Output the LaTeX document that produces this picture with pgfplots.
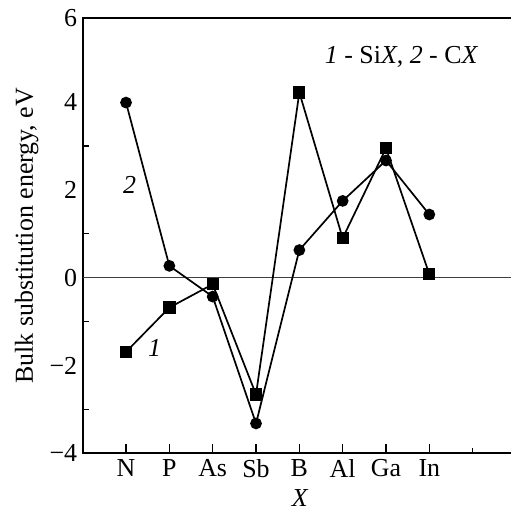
\documentclass[border=0pt]{standalone}
\usepackage{fontspec}
\setmainfont{Liberation Serif}
\usepackage{pgfplots}
\pgfplotsset{compat=1.18}
\begin{document}
\begin{tikzpicture}
\begin{axis}[
  scale only axis,
  width=428.3bp, height=435bp,
  xmin=0, xmax=9.885, ymin=-4, ymax=5.91,
  axis line style={draw=none},
  clip=false,
  tick align=inside,
  xtick pos=bottom, ytick pos=left,
  xtick={1,2,3,4,5,6,7,8},
  xticklabels={N,P,As,Sb,B,Al,Ga,In},
  extra x ticks={9}, extra x tick labels={},
  extra x tick style={major tick length=5.5bp},
  ytick={-4,-2,0,2,4},
  yticklabels={−4,−2,0,2,4},
  extra y ticks={5.91}, extra y tick labels={6},
  extra y tick style={major tick length=0bp},
  minor y tick num=1,
  major y tick style={draw=none},
  major tick length=9bp, minor tick length=6bp,
  tick style={line width=1.2bp, black},
  tick label style={font=\fontsize{26}{30}\selectfont},
  yticklabel style={anchor=east, xshift=-2bp},
  xticklabel style={anchor=north, yshift=-3bp},
  every axis y label/.style={at={(rel axis cs:-0.1307,0.5)}, rotate=90, anchor=center, font=\fontsize{26}{30}\selectfont},
  every axis x label/.style={at={(rel axis cs:0.507,-0.1035)}, anchor=center, font=\fontsize{26}{30}\selectfont},
  ylabel={Bulk substitution energy, eV},
  xlabel={\itshape X},
]
\draw[line width=2bp, black, line cap=rect] (rel axis cs:0,0) -- (rel axis cs:0,1) -- (rel axis cs:1,1);
\draw[line width=2bp, black] (rel axis cs:0,0) -- (rel axis cs:1,0);
\draw[line width=1.3bp, black!75] (axis cs:0,0) -- (axis cs:9.885,0);
% 1 - SiX (squares)
\addplot[black, line width=1.7bp, mark=square*, mark size=5.3bp, mark options={solid}] coordinates {
 (1,-1.69) (2,-0.68) (3,-0.15) (4,-2.66) (5,4.22) (6,0.90) (7,2.95) (8,0.08)};
% 2 - CX (circles)
\addplot[black, line width=1.7bp, mark=*, mark size=5bp, mark options={solid}] coordinates {
 (1,3.99) (2,0.27) (3,-0.43) (4,-3.32) (5,0.63) (6,1.75) (7,2.67) (8,1.44)};
\node[font=\fontsize{26}{30}\selectfont\itshape] at (axis cs:1.08,2.11) {2};
\node[font=\fontsize{26}{30}\selectfont\itshape] at (axis cs:1.66,-1.60) {1};
\node[font=\fontsize{26}{30}\selectfont] at (axis cs:7.36,5.03) {\textit{1} - Si\textit{X}, \textit{2} - C\textit{X}};
\coordinate (bl) at (rel axis cs:0,0);
\coordinate (tr) at (rel axis cs:1,1);
\end{axis}
\pgfresetboundingbox
\path ([xshift=-82.7bp,yshift=-56.7bp]bl) rectangle ([yshift=18.3bp]tr);
\end{tikzpicture}
\end{document}
